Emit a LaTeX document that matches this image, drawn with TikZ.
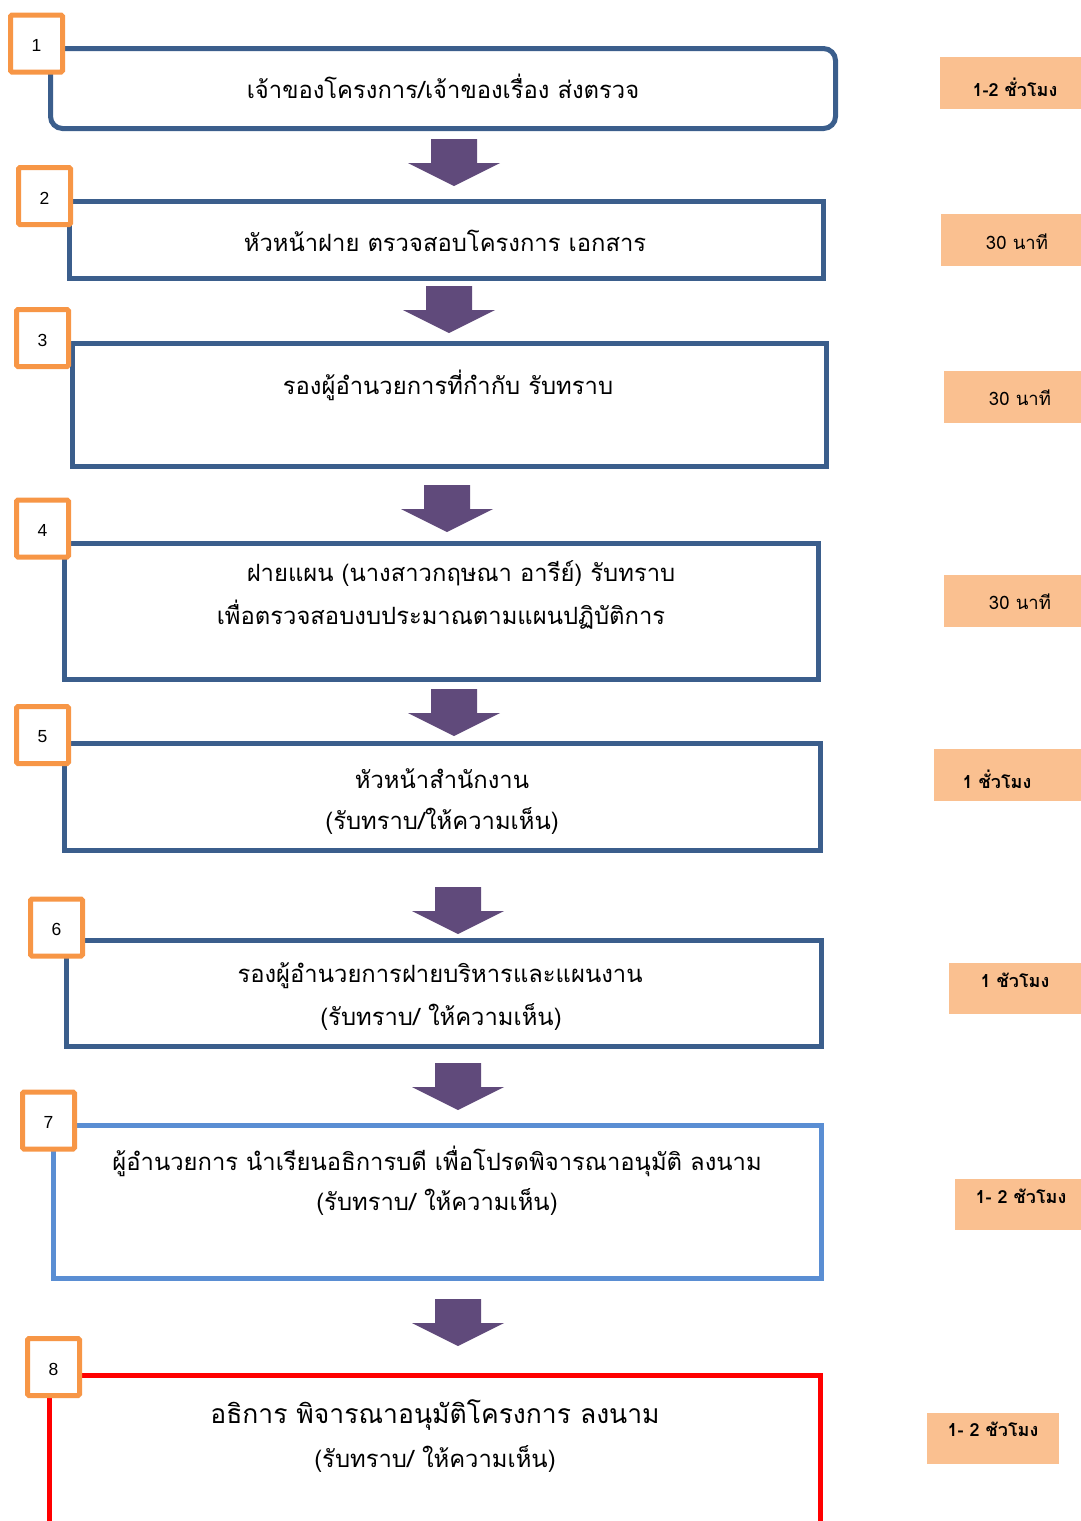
\documentclass[tikz,border=0pt]{standalone}
\usepackage{fontspec}
\setmainfont{Liberation Sans}
\newfontfamily\thai[Script=Thai]{Loma}
\definecolor{boxblue}{HTML}{3B5E8C}
\definecolor{lightblue}{HTML}{5A8ED3}
\definecolor{numorange}{HTML}{F79646}
\definecolor{peach}{HTML}{FAC090}
\definecolor{arrowpurple}{HTML}{604A7B}
\tikzset{
  stepbox/.style={draw=boxblue, line width=5pt, fill=white, inner sep=0pt},
  numbox/.style={draw=numorange, line width=5pt, fill=white, rounded corners=1.5pt,
    minimum width=52pt, minimum height=57pt, inner sep=0pt, font=\fontsize{17.5}{17.5}\selectfont},
  numtext/.style={inner sep=0pt, font=\fontsize{17.5}{17.5}\selectfont},
  timebox/.style={fill=peach, inner sep=0pt},
  maintext/.style={font=\thai\fontsize{23.8}{23.8}\selectfont, inner sep=0pt, anchor=center},
  timetext/.style={font=\thai\fontsize{18.5}{18.5}\selectfont, inner sep=0pt, anchor=center},
  timebold/.style={font=\thai\bfseries\fontsize{18}{18}\selectfont, inner sep=0pt, anchor=center},
}
\newcommand{\blockarrow}[1]{%
  \fill[arrowpurple] (#1) ++(-23,0) -- ++(46,0) -- ++(0,24) -- ++(23,0) -- ++(-46,23)
    -- ++(-46,-23) -- ++(23,0) -- cycle;}
\begin{document}
\begin{tikzpicture}[x=1pt,y=-1pt]
\useasboundingbox (0,0) rectangle (1081,1521);
\clip (0,0) rectangle (1081,1521);
% main boxes
\draw[stepbox, rounded corners=12pt] (50.5,48.5) rectangle (835.5,128.5);
\node[inner sep=0pt, minimum width=785pt, minimum height=80pt] (b1) at (443,88.5) {};
\node[stepbox, minimum width=754pt, minimum height=77pt] (b2) at (446,239.5) {};
\node[stepbox, minimum width=754pt, minimum height=123pt] (b3) at (449,404.5) {};
\node[stepbox, minimum width=754pt, minimum height=136pt] (b4) at (441,611) {};
\node[stepbox, minimum width=756pt, minimum height=107pt] (b5) at (442,796.5) {};
\node[stepbox, minimum width=755pt, minimum height=106pt] (b6) at (444,993.5) {};
\node[stepbox, draw=lightblue, minimum width=767.5pt, minimum height=153pt] (b7) at (437.25,1201.5) {};
\node[stepbox, draw=red, minimum width=770.5pt, minimum height=200pt] (b8) at (434.75,1475) {};
% texts in boxes
\node[maintext] (t1) at (443,86) {เจ้าของโครงการ/เจ้าของเรื่อง ส่งตรวจ};
\node[maintext] (t2) at (445,241) {หัวหน้าฝาย ตรวจสอบโครงการ เอกสาร};
\node[maintext] (t3) at (448,385) {รองผู้อำนวยการที่กำกับ รับทราบ};
\node[maintext] (t4a) at (461,574) {ฝายแผน (นางสาวกฤษณา อารีย์) รับทราบ};
\node[maintext] (t4b) at (441,615) {เพื่อตรวจสอบงบประมาณตามแผนปฏิบัติการ};
\node[maintext] (t5a) at (442,779) {หัวหน้าสำนักงาน};
\node[maintext] (t5b) at (442,821) {(รับทราบ/ให้ความเห็น)};
\node[maintext] (t6a) at (440,976) {รองผู้อำนวยการฝายบริหารและแผนงาน};
\node[maintext] (t6b) at (441,1017) {(รับทราบ/ ให้ความเห็น)};
\node[maintext] (t7a) at (437,1161) {ผู้อำนวยการ นำเรียนอธิการบดี เพื่อโปรดพิจารณาอนุมัติ ลงนาม};
\node[maintext] (t7b) at (437,1202) {(รับทราบ/ ให้ความเห็น)};
\node[maintext, font=\thai\fontsize{26.5}{26.5}\selectfont] (t8a) at (435,1415) {อธิการ พิจารณาอนุมัติโครงการ ลงนาม};
\node[maintext] (t8b) at (435,1459) {(รับทราบ/ ให้ความเห็น)};
% number boxes
\node[numbox] (n1) at (36.5,43.5) {};
\node[numbox] (n2) at (44.5,196) {};
\node[numbox] (n3) at (42.5,338) {};
\node[numbox] (n4) at (42.5,528.5) {};
\node[numbox] (n5) at (42.5,735) {};
\node[numbox] (n6) at (56.5,927.5) {};
\node[numbox] (n7) at (48.5,1120.5) {};
\node[numbox] (n8) at (53.5,1367) {};
\foreach \n/\d in {n1/1,n2/2,n3/3,n4/4,n5/5,n6/6,n7/7,n8/8}
  \node[numtext] (\n txt) at ([yshift=-2pt]\n.center) {\d};
% arrows
\coordinate (a1) at (454,139);
\coordinate (a2) at (449,286);
\coordinate (a3) at (447,485);
\coordinate (a4) at (454,689);
\coordinate (a5) at (458,887);
\coordinate (a6) at (458,1063);
\coordinate (a7) at (458,1299);
\blockarrow{a1}\blockarrow{a2}\blockarrow{a3}\blockarrow{a4}\blockarrow{a5}\blockarrow{a6}\blockarrow{a7}
% time boxes
\node[timebox, minimum width=141pt, minimum height=52pt] (l1) at (1010.5,82.5) {};
\node[timebox, minimum width=140pt, minimum height=52pt] (l2) at (1011,240) {};
\node[timebox, minimum width=137pt, minimum height=52pt] (l3) at (1012.5,397) {};
\node[timebox, minimum width=137pt, minimum height=52pt] (l4) at (1012.5,601) {};
\node[timebox, minimum width=147pt, minimum height=52pt] (l5) at (1007.5,775) {};
\node[timebox, minimum width=132pt, minimum height=51pt] (l6) at (1015,988.5) {};
\node[timebox, minimum width=126pt, minimum height=51pt] (l7) at (1018,1204.5) {};
\node[timebox, minimum width=132pt, minimum height=51pt] (l8) at (993,1438.5) {};
\node[timebold] (lt1) at (1015,87) {1-2 ชั่วโมง};
\node[timetext] (lt2) at (1017,242) {30 นาที};
\node[timetext] (lt3) at (1020,398) {30 นาที};
\node[timetext] (lt4) at (1020,602) {30 นาที};
\node[timebold] (lt5) at (997,779) {1 ชั่วโมง};
\node[timebold] (lt6) at (1015,980) {1 ชัวโมง};
\node[timebold] (lt7) at (1021,1196) {1- 2 ชัวโมง};
\node[timebold] (lt8) at (993,1429) {1- 2 ชัวโมง};
\end{tikzpicture}
\end{document}
